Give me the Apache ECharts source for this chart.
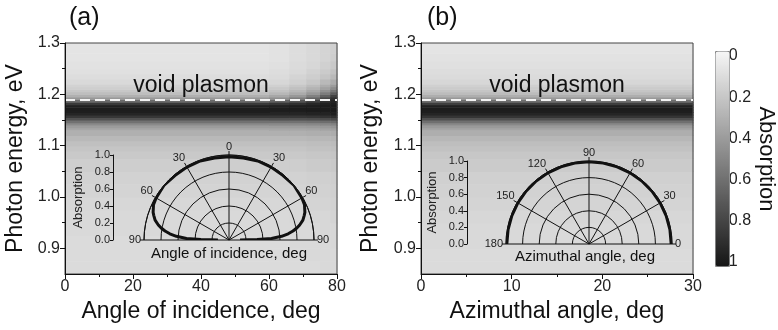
<!DOCTYPE html>
<html>
<head>
<meta charset="utf-8">
<script src="https://cdn.jsdelivr.net/npm/echarts@6/dist/echarts.min.js"></script>
<style>
  html, body { margin: 0; padding: 0; background: #fff; }
  #chart { width: 778px; height: 330px; }
</style>
</head>
<body>
<div id="chart"></div>
<script>
// photon energy cell edges (eV), shared by both maps
const energyEdges = [0.85, 0.875, 0.9, 0.925, 0.95, 0.975, 1.0, 1.025, 1.05, 1.075,
  1.09, 1.1, 1.11, 1.12, 1.13, 1.135, 1.14, 1.145, 1.15, 1.155, 1.16, 1.165, 1.17,
  1.175, 1.18, 1.185, 1.19, 1.195, 1.2, 1.205, 1.21, 1.215, 1.22, 1.23, 1.24, 1.25,
  1.265, 1.28, 1.3];

// (a) absorption columns, angle of incidence (deg)
const incColumns = [0, 60, 66, 71, 75, 78, 80];
const absA1 = [0.12, 0.12, 0.12, 0.13, 0.13, 0.14, 0.15, 0.16, 0.18, 0.20, 0.22, 0.24, 0.27,
  0.31, 0.35, 0.40, 0.48, 0.59, 0.73, 0.85, 0.93, 0.96, 0.97, 0.95, 0.84, 0.62, 0.42, 0.31,
  0.25, 0.21, 0.18, 0.16, 0.13, 0.11, 0.10, 0.09, 0.08, 0.08];
const absA2 = [0.12, 0.12, 0.12, 0.13, 0.13, 0.14, 0.15, 0.16, 0.18, 0.20, 0.22, 0.24, 0.27,
  0.31, 0.35, 0.40, 0.48, 0.59, 0.73, 0.85, 0.93, 0.96, 0.97, 0.95, 0.86, 0.66, 0.46, 0.35,
  0.28, 0.23, 0.20, 0.17, 0.14, 0.12, 0.11, 0.10, 0.09, 0.09];
const absA3 = [0.12, 0.12, 0.13, 0.13, 0.14, 0.14, 0.15, 0.16, 0.18, 0.20, 0.22, 0.24, 0.27,
  0.31, 0.35, 0.40, 0.48, 0.59, 0.73, 0.85, 0.93, 0.96, 0.97, 0.96, 0.88, 0.72, 0.54, 0.42,
  0.34, 0.28, 0.24, 0.21, 0.17, 0.15, 0.13, 0.12, 0.11, 0.11];
const absA4 = [0.12, 0.13, 0.13, 0.13, 0.14, 0.15, 0.16, 0.17, 0.19, 0.21, 0.23, 0.25, 0.28,
  0.32, 0.36, 0.41, 0.49, 0.60, 0.74, 0.86, 0.94, 0.97, 0.97, 0.96, 0.92, 0.80, 0.65, 0.52,
  0.42, 0.35, 0.30, 0.26, 0.21, 0.18, 0.16, 0.14, 0.13, 0.13];
const absA5 = [0.13, 0.13, 0.13, 0.14, 0.14, 0.15, 0.16, 0.17, 0.19, 0.21, 0.23, 0.25, 0.28,
  0.32, 0.37, 0.42, 0.50, 0.61, 0.75, 0.87, 0.94, 0.97, 0.97, 0.97, 0.95, 0.88, 0.78, 0.66,
  0.54, 0.45, 0.38, 0.33, 0.27, 0.22, 0.19, 0.17, 0.15, 0.15];
const absA6 = [0.13, 0.13, 0.14, 0.14, 0.15, 0.16, 0.17, 0.18, 0.20, 0.22, 0.24, 0.26, 0.29,
  0.33, 0.38, 0.43, 0.51, 0.62, 0.76, 0.88, 0.95, 0.97, 0.97, 0.97, 0.96, 0.94, 0.89, 0.80,
  0.68, 0.56, 0.47, 0.40, 0.33, 0.27, 0.23, 0.20, 0.18, 0.17];

// (b) absorption, azimuthal angle (deg) - no azimuth dependence
const aziColumns = [0, 30];
const absB = [0.12, 0.12, 0.13, 0.13, 0.14, 0.15, 0.16, 0.17, 0.19, 0.21, 0.23, 0.25, 0.28,
  0.32, 0.36, 0.41, 0.49, 0.60, 0.74, 0.86, 0.93, 0.96, 0.97, 0.95, 0.82, 0.60, 0.42, 0.32,
  0.26, 0.22, 0.19, 0.17, 0.14, 0.12, 0.11, 0.10, 0.09, 0.08];

const plasmonEnergy = 1.19;

// inset polar curves
const incAngles = [-90, -89, -88, -86, -84, -82, -80, -78, -75, -72, -70, -65, -60, -50, -40,
  -30, -20, -10, 0, 10, 20, 30, 40, 50, 60, 65, 70, 72, 75, 78, 80, 82, 84, 86, 88, 89, 90];
const incAbs = [0.13, 0.33, 0.50, 0.62, 0.70, 0.76, 0.81, 0.85, 0.90, 0.93, 0.95, 0.98, 0.99,
  1.00, 0.99, 0.99, 0.99, 0.98, 0.98, 0.98, 0.99, 0.99, 0.99, 1.00, 0.99, 0.98, 0.95, 0.93,
  0.90, 0.85, 0.81, 0.76, 0.70, 0.62, 0.50, 0.33, 0.13];
const aziAngles = [0, 10, 20, 30, 40, 50, 60, 70, 80, 90, 100, 110, 120, 130, 140, 150, 160, 170, 180];
const aziAbs = [0.99, 0.99, 0.99, 0.99, 0.99, 0.99, 0.99, 0.99, 0.99, 0.99, 0.99, 0.99, 0.99,
  0.99, 0.99, 0.99, 0.99, 0.99, 0.99];

// tick labels
const yTicks = [0.9, 1.0, 1.1, 1.2, 1.3];
const yMinorTicks = [0.95, 1.05, 1.15, 1.25];

const FONT = '"Liberation Sans", Arial, sans-serif';

function buildCells (colEdges, columns) {
  const out = [];
  columns.forEach((col, c) => {
    col.forEach((v, i) => {
      out.push([colEdges[c], colEdges[c + 1], energyEdges[i], energyEdges[i + 1], v]);
    });
  });
  return out;
}

function renderCell (params, api) {
  const p0 = api.coord([api.value(0), api.value(3)]);
  const p1 = api.coord([api.value(1), api.value(2)]);
  return {
    type: 'rect',
    shape: { x: p0[0], y: p0[1], width: p1[0] - p0[0] + 0.6, height: p1[1] - p0[1] + 0.6 },
    style: { fill: api.visual('color') },
  };
}

const chart = echarts.init(document.getElementById('chart'));

const axisLine = { lineStyle: { color: '#111', width: 1 } };
const tickLabel = { color: '#222', fontSize: 16, fontFamily: FONT };

function mainY (grid, name, gap) {
  return [{
    gridIndex: grid, type: 'value', position: 'left', min: 0.85, max: 1.3, z: 6,
    axisLine: { show: true, ...axisLine },
    axisTick: { show: true, length: 5, customValues: yTicks, lineStyle: { color: '#111' } },
    axisLabel: { ...tickLabel, margin: 5, customValues: yTicks, formatter: v => v.toFixed(1) },
    splitLine: { show: false },
    name: name, nameLocation: 'middle', nameGap: gap, nameRotate: 90,
    nameTextStyle: { fontSize: 23, color: '#111', fontFamily: FONT },
  }, {
    gridIndex: grid, type: 'value', position: 'left', offset: 0, min: 0.85, max: 1.3, z: 6,
    axisLine: { show: false },
    axisTick: { show: true, length: 3, customValues: yMinorTicks, lineStyle: { color: '#111' } },
    axisLabel: { show: false },
    splitLine: { show: false },
  }]
}

function mainX (grid, max, interval, name) {
  return {
    gridIndex: grid, type: 'value', min: 0, max: max, interval: interval, z: 6,
    axisLine: { show: true, ...axisLine },
    axisTick: { show: true, length: 5, lineStyle: { color: '#111' } },
    minorTick: { show: true, splitNumber: 2, length: 3, lineStyle: { color: '#111' } },
    axisLabel: { ...tickLabel, margin: 5 },
    splitLine: { show: false },
    name: name, nameLocation: 'middle', nameGap: 22,
    nameTextStyle: { fontSize: 23, color: '#111', fontFamily: FONT },
  }
}

function insetY (grid) {
  return {
    gridIndex: grid, type: 'value', min: 0, max: 1, interval: 0.2, z: 6,
    axisLine: { show: true, ...axisLine },
    axisTick: { show: true, length: 3, lineStyle: { color: '#111' } },
    axisLabel: { color: '#222', fontSize: 11, fontFamily: FONT, margin: 3, formatter: v => v.toFixed(1) },
    splitLine: { show: false },
    name: 'Absorption', nameLocation: 'middle', nameGap: 28, nameRotate: 90,
    nameTextStyle: { fontSize: 13, color: '#222', fontFamily: FONT },
  }
}

const hiddenX = grid => ({ gridIndex: grid, type: 'value', min: 0, max: 1, show: false });

function angleAxis (polar, min, max, start, end, clockwise, fmt) {
  return {
    polarIndex: polar, type: 'value', min: min, max: max, interval: 30,
    startAngle: start, endAngle: end, clockwise: clockwise, z: 6,
    axisLine: { show: true, ...axisLine },
    axisTick: { show: true, length: 4, lineStyle: { color: '#111' } },
    axisLabel: { color: '#222', fontSize: 11, fontFamily: FONT, margin: 3, formatter: fmt },
    splitLine: { show: true, lineStyle: { color: '#111', width: 1 } },
  }
}

function radiusAxis (polar) {
  return {
    polarIndex: polar, type: 'value', min: 0, max: 1, interval: 0.2, z: 6,
    axisLine: { show: false }, axisTick: { show: false }, axisLabel: { show: false },
    splitLine: { show: true, lineStyle: { color: '#111', width: 1 } },
  }
}

function plasmonLine () {
  return {
    silent: true, symbol: 'none',
    data: [{ yAxis: plasmonEnergy }],
    lineStyle: { type: [10, 5], color: '#f2f2f2', width: 2 },
    label: { show: true, position: 'insideMiddleTop', formatter: 'void plasmon', distance: 2,
      fontSize: 23, color: '#111', fontFamily: FONT },
  }
}

const option = {
  animation: false,
  textStyle: { fontFamily: FONT },
  title: [
    { text: '(a)', left: 69, top: 6, padding: 0, textStyle: { fontSize: 25, fontWeight: 'normal', color: '#111', fontFamily: FONT } },
    { text: '(b)', left: 427, top: 6, padding: 0, textStyle: { fontSize: 25, fontWeight: 'normal', color: '#111', fontFamily: FONT } },
  ],
  grid: [
    { left: 65, top: 43, width: 272, height: 231, show: true, borderColor: '#444', borderWidth: 1, backgroundColor: 'transparent', z: 5 },
    { left: 421, top: 43, width: 272, height: 231, show: true, borderColor: '#444', borderWidth: 1, backgroundColor: 'transparent', z: 5 },
    { left: 113, top: 155, width: 10, height: 85 },
    { left: 467, top: 161, width: 10, height: 83 },
    { left: 715, top: 56, width: 14, height: 206 },
  ],
  xAxis: [
    mainX(0, 80, 20, 'Angle of incidence, deg'),
    mainX(1, 30, 10, 'Azimuthal angle, deg'),
    hiddenX(2), hiddenX(3), hiddenX(4),
  ],
  yAxis: [
    ...mainY(0, 'Photon energy, eV', 38),
    ...mainY(1, 'Photon energy, eV', 39),
    insetY(2),
    insetY(3),
    {
      gridIndex: 4, type: 'value', position: 'right', inverse: true, min: 0, max: 1, interval: 0.2,
      axisLine: { show: false }, axisTick: { show: false }, splitLine: { show: false },
      axisLabel: { ...tickLabel, margin: 7, formatter: v => (v === 0 || v === 1) ? String(v) : v.toFixed(1) },
      name: 'Absorption', nameLocation: 'middle', nameGap: 31, nameRotate: -90,
      nameTextStyle: { fontSize: 22, color: '#111', fontFamily: FONT },
    },
  ],
  polar: [
    { center: [229, 240], radius: 85 },
    { center: [589, 244], radius: 83 },
  ],
  angleAxis: [
    angleAxis(0, -90, 90, 180, 0, true, v => String(Math.abs(v))),
    angleAxis(1, 0, 180, 0, 180, false, v => String(v)),
  ],
  radiusAxis: [radiusAxis(0), radiusAxis(1)],
  visualMap: {
    type: 'continuous', min: 0, max: 1, dimension: 4, seriesIndex: [0, 1],
    left: 715, top: 51, itemWidth: 14, itemHeight: 215, inverse: true,
    calculable: false, padding: 0, borderColor: '#888', borderWidth: 1,
    inRange: { color: ['#f6f6f6', '#151515'] },
  },
  series: [
    {
      type: 'custom', xAxisIndex: 0, yAxisIndex: 0, z: 1,
      renderItem: renderCell, encode: { x: [0, 1], y: [2, 3] },
      data: buildCells(incColumns, [absA1, absA2, absA3, absA4, absA5, absA6]),
      markLine: plasmonLine(),
    },
    {
      type: 'custom', xAxisIndex: 1, yAxisIndex: 2, z: 1,
      renderItem: renderCell, encode: { x: [0, 1], y: [2, 3] },
      data: buildCells(aziColumns, [absB]),
      markLine: plasmonLine(),
    },
    {
      type: 'line', coordinateSystem: 'polar', polarIndex: 0, z: 8,
      showSymbol: false, smooth: false,
      lineStyle: { color: '#111', width: 3 },
      data: incAngles.map((a, i) => [incAbs[i], a]),
    },
    {
      type: 'line', coordinateSystem: 'polar', polarIndex: 1, z: 8,
      showSymbol: false, smooth: false,
      lineStyle: { color: '#111', width: 3 },
      data: aziAngles.map((a, i) => [aziAbs[i], a]),
    },
  ],
  graphic: [
    { type: 'text', z: 10, style: { text: 'Angle of incidence, deg', x: 229, y: 254, align: 'center', verticalAlign: 'middle', fill: '#111', font: '15px ' + FONT } },
    { type: 'text', z: 10, style: { text: 'Azimuthal angle, deg', x: 585, y: 257, align: 'center', verticalAlign: 'middle', fill: '#111', font: '15px ' + FONT } },
  ],
}

chart.setOption(option)
</script>
</body>
</html>
